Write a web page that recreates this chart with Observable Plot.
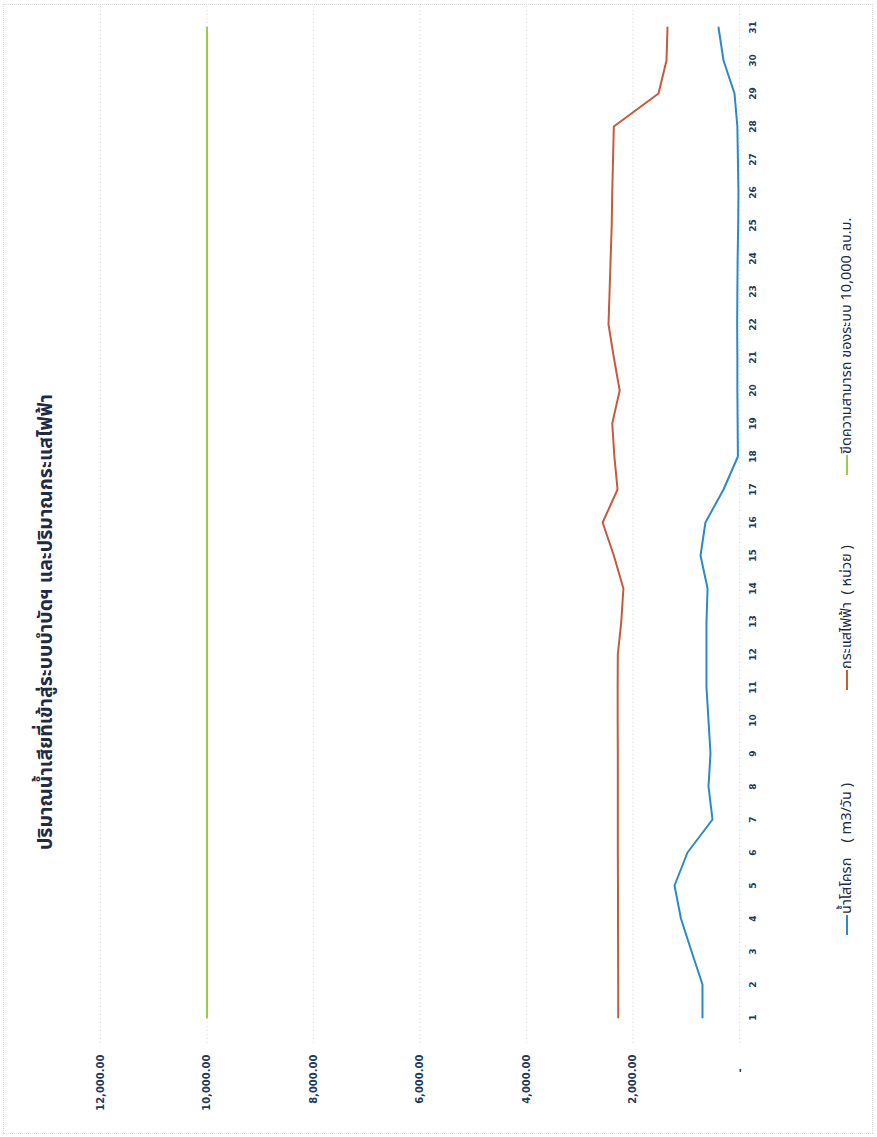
<!DOCTYPE html>
<html>
<head>
<meta charset="utf-8">
<script src="https://cdn.jsdelivr.net/npm/d3@7"></script>
<script src="https://cdn.jsdelivr.net/npm/@observablehq/plot@0.6"></script>
<style>
  html, body { margin: 0; padding: 0; background: #fff; width: 877px; height: 1137px; overflow: hidden; }
  #wrap {
    position: absolute; left: 0; top: 0; width: 1137px; height: 877px;
    transform-origin: 0 0; transform: translate(0px, 1137px) rotate(-90deg);
    background: #fff;
  }
  #title {
    position: absolute; left: 0; width: 1030px; top: 31px; text-align: center;
    font-family: "Noto Sans Thai", "Noto Sans", Tahoma, sans-serif; font-weight: bold; font-size: 19.5px; color: #1f2a44;
  }
  #plot { position: absolute; left: 0; top: 70px; }
  .leg {
    position: absolute; top: 836px; font-family: "Noto Sans Thai", "Noto Sans", Tahoma, sans-serif;
    font-size: 14.5px; color: #1f2a44; white-space: pre; display: flex; align-items: center;
  }
  .leg span.sw { display: inline-block; width: 20px; height: 2px; margin-right: 1px; }
  #border { position: absolute; left: 3px; top: 3px; width: 1128px; height: 868px; border: 1px dotted #d8d8d8; }
</style>
</head>
<body>
<div id="wrap">
  <div id="border"></div>
  <div id="title"></div>
  <div id="plot"></div>
  <div id="legend"></div>
</div>
<script>
// ---- data ----
const titleText = "ปริมาณน้ำเสียที่เข้าสู่ระบบบำบัดฯ และปริมาณกระแสไฟฟ้า";
const days = [1,2,3,4,5,6,7,8,9,10,11,12,13,14,15,16,17,18,19,20,21,22,23,24,25,26,27,28,29,30,31];
const wastewater = [695,695,900,1100,1220,976,507,582,545,582,620,620,620,600,732,640,300,30,35,40,40,44,40,35,25,20,30,40,94,300,394];
const electricity = [2278,2278,2280,2282,2282,2285,2285,2285,2285,2288,2288,2285,2220,2180,2360,2570,2290,2350,2390,2250,2360,2460,2440,2420,2400,2390,2375,2360,1521,1371,1352];
const capacity = [10000,10000,10000,10000,10000,10000,10000,10000,10000,10000,10000,10000,10000,10000,10000,10000,10000,10000,10000,10000,10000,10000,10000,10000,10000,10000,10000,10000,10000,10000,10000];
const valueTicks = [0,2000,4000,6000,8000,10000,12000];
const seriesNames = ["น้ำโสโครก    ( m3/วัน )", "กระแสไฟฟ้า  ( หน่วย )", "ขีดความสามารถ ของระบบ 10,000 ลบ.ม."];
const seriesColors = ["#2a8ac6", "#c65a3c", "#9ccc45"];

// ---- build ----
document.getElementById("title").textContent = titleText;

const seriesValues = [wastewater, electricity, capacity];
const rows = [];
seriesValues.forEach((vals, s) => vals.forEach((v, i) => rows.push({day: days[i], value: v, series: seriesNames[s]})));

const fmt = d3.format(",.2f");
const chart = Plot.plot({
  width: 1137,
  height: 720,
  marginLeft: 94,
  marginRight: 3,
  marginTop: 30,
  marginBottom: 51,
  style: {fontFamily: "DejaVu Sans, sans-serif", background: "transparent"},
  x: {type: "point", domain: days, padding: 0.5, label: null},
  y: {domain: [0, 12000], label: null},
  color: {domain: seriesNames, range: seriesColors},
  marks: [
    Plot.gridY(valueTicks, {stroke: "#bdbdbd", strokeOpacity: 0.6, strokeDasharray: "1,3"}),
    Plot.axisY(valueTicks, {
      label: null, tickSize: 0, tickPadding: 12, fontWeight: "bold", fontSize: 10, fill: "#22395a",
      tickFormat: d => d === 0 ? "-\u00a0\u00a0\u00a0\u00a0" : fmt(d)
    }),
    Plot.axisX(days, {label: null, tickSize: 0, tickPadding: 10, fontWeight: "bold", fontSize: 9, fill: "#22395a"}),
    Plot.line(rows, {x: "day", y: "value", z: "series", stroke: "series", strokeWidth: 2})
  ]
});
document.getElementById("plot").appendChild(chart);

const legendLefts = [202, 447, 662];
const legend = document.getElementById("legend");
seriesNames.forEach((name, i) => {
  const d = document.createElement("div");
  d.className = "leg";
  d.style.left = legendLefts[i] + "px";
  const sw = document.createElement("span");
  sw.className = "sw";
  sw.style.background = seriesColors[i];
  d.appendChild(sw);
  d.appendChild(document.createTextNode(name));
  legend.appendChild(d);
});
</script>
</body>
</html>
